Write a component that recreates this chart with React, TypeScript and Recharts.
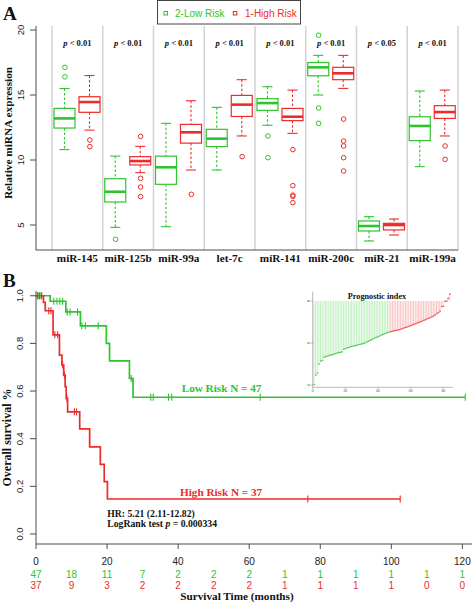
import React from 'react';
import { Bar, ComposedChart, Line, ReferenceLine, Scatter, XAxis, YAxis } from 'recharts';

const SERIF = '"Liberation Serif", "Times New Roman", serif';
const SANS = '"Liberation Sans", Arial, sans-serif';
const GREEN = '#2ec42e';
const RED = '#ee2b2b';
const AXIS = '#4d4d4d';

// ---- panel A: miRNA expression by risk group
const categories = ['miR-145', 'miR-125b', 'miR-99a', 'let-7c', 'miR-141', 'miR-200c', 'miR-21', 'miR-199a'];
const pValues = ['< 0.01', '< 0.01', '< 0.01', '< 0.01', '< 0.01', '< 0.01', '< 0.05', '< 0.01'];

// [min, q1, median, q3, max]
const lowRiskBoxes = [
  [10.8, 12.46, 13.2, 13.97, 15.5],
  [4.82, 6.77, 7.56, 8.56, 10.3],
  [4.87, 8.13, 9.44, 10.3, 12.82],
  [9.23, 11.03, 11.64, 12.36, 14.05],
  [12.67, 13.82, 14.38, 14.72, 15.64],
  [15.0, 16.48, 17.13, 17.5, 18.05],
  [3.77, 4.54, 4.92, 5.31, 5.64],
  [9.49, 11.49, 12.62, 13.33, 15.31],
];
const highRiskBoxes = [
  [12.3, 13.67, 14.46, 14.87, 16.5],
  [9.03, 9.62, 9.92, 10.26, 11.05],
  [9.23, 11.3, 12.13, 12.74, 14.56],
  [11.85, 13.35, 14.26, 14.97, 16.18],
  [12.05, 13.03, 13.33, 13.97, 15.38],
  [15.51, 16.18, 16.67, 17.13, 18.05],
  [4.23, 4.62, 5.0, 5.13, 5.46],
  [11.85, 13.2, 13.69, 14.18, 15.38],
];
const lowRiskOutliers = [[17.13, 16.4], [3.9], [], [], [11.85, 10.18], [19.6, 14.0, 12.82], [], []];
const highRiskOutliers = [
  [11.54, 11.03],
  [11.82, 8.59, 7.92, 7.18],
  [7.36],
  [10.26],
  [10.8, 8.03, 7.3, 7.2, 6.72],
  [13.15, 11.46, 11.08, 10.18, 9.15],
  [],
  [11.08, 10.05],
];
const expressionTicks = [5, 10, 15, 20];
const expressionDomain = [3.077, 20.31];

// ---- panel B: Kaplan-Meier
const lowTimes = [0, 4.0, 8.4, 12.5, 19.8, 20.7, 26.3, 27.3, 120.8];
const lowSurv = [1.0, 0.977, 0.932, 0.874, 0.8, 0.727, 0.653, 0.574, 0.574];
const highTimes = [0, 2.1, 2.6, 4.8, 6.6, 7.3, 7.8, 8.2, 8.5, 8.9, 12.3, 15.1, 18.1, 19.2, 20.1, 102.5];
const highSurv = [1.0, 0.972, 0.937, 0.836, 0.751, 0.709, 0.667, 0.618, 0.569, 0.513, 0.441, 0.366, 0.292, 0.22, 0.147, 0.147];
const lowCensorTimes = [0.6, 1.4, 5.0, 5.9, 6.7, 7.5, 8.8, 9.6, 11.7, 12.9, 13.9, 17.5, 26.8, 32.3, 33.0, 37.3, 38.2, 63.1, 120.8];
const lowCensorSurv = [1, 1, 0.977, 0.977, 0.977, 0.977, 0.932, 0.932, 0.932, 0.874, 0.874, 0.874, 0.653, 0.574, 0.574, 0.574, 0.574, 0.574, 0.574];
const highCensorTimes = [0.4, 1.0, 1.6, 3.6, 4.2, 5.3, 6.1, 7.5, 8.0, 8.7, 10.8, 11.4, 76.5, 102.5];
const highCensorSurv = [1, 1, 1, 0.937, 0.937, 0.836, 0.836, 0.709, 0.667, 0.569, 0.513, 0.513, 0.147, 0.147];
const riskTimes = [0, 10, 20, 30, 40, 50, 60, 70, 80, 90, 100, 110, 120];
const lowAtRisk = [47, 18, 11, 7, 2, 2, 2, 1, 1, 1, 1, 1, 1];
const highAtRisk = [37, 9, 3, 2, 2, 2, 2, 1, 1, 1, 1, 0, 0];
const survivalTicks = [0, 0.2, 0.4, 0.6, 0.8, 1.0];

// ---- inset: prognostic index, sorted patients (first 47 low risk)
const lowRiskCount = 47;
const prognosticIndex = [
  4.03, 4.48, 4.58, 5.0, 5.14, 5.18, 5.33, 5.36, 5.38, 5.41, 5.43, 5.45, 5.47, 5.5, 5.53, 5.55,
  5.56, 5.58, 5.7, 5.74, 5.77, 5.79, 5.82, 5.84, 5.86, 5.88, 5.9, 5.92, 5.94, 5.96, 5.98, 6.0,
  6.04, 6.08, 6.12, 6.16, 6.2, 6.24, 6.27, 6.3, 6.34, 6.38, 6.41, 6.44, 6.47, 6.5, 6.53,
  6.55, 6.57, 6.58, 6.6, 6.62, 6.64, 6.66, 6.69, 6.72, 6.74, 6.77, 6.8, 6.83, 6.86, 6.89, 6.92,
  6.95, 6.98, 7.01, 7.04, 7.08, 7.11, 7.15, 7.18, 7.21, 7.25, 7.29, 7.33, 7.4, 7.45, 7.52, 7.73,
  7.75, 7.98, 8.0, 8.13, 8.33,
];
const insetCeiling = 8;
const insetYTicks = [4, 5, 6, 7, 8];
const insetXTicks = [0, 20, 40, 60, 80];

const boxData = categories.map((name, i) => ({
  name,
  low: lowRiskBoxes[i],
  high: highRiskBoxes[i],
  lowRange: [lowRiskBoxes[i][0], lowRiskBoxes[i][4]],
  highRange: [highRiskBoxes[i][0], highRiskBoxes[i][4]],
}));
const lowOutlierPts = lowRiskOutliers.flatMap((vals, i) => vals.map((y) => ({ x: i + 0.254, y })));
const highOutlierPts = highRiskOutliers.flatMap((vals, i) => vals.map((y) => ({ x: i + 0.746, y })));
const separators = Array.from({ length: categories.length + 1 }, (_, k) => k);

const lowCurve = lowTimes.map((t, i) => ({ t, s: lowSurv[i] }));
const highCurve = highTimes.map((t, i) => ({ t, s: highSurv[i] }));
const lowCensor = lowCensorTimes.map((t, i) => ({ t, s: lowCensorSurv[i] }));
const highCensor = highCensorTimes.map((t, i) => ({ t, s: highCensorSurv[i] }));

const insetData = prognosticIndex.map((v, i) => ({
  idx: i + 1,
  v,
  range: [Math.min(v, insetCeiling), Math.max(v, insetCeiling)],
  high: i >= lowRiskCount,
}));

function BoxGlyph(props: any) {
  const { x, y, width, height, payload, statsKey, color } = props;
  const stats = payload && payload[statsKey];
  if (!stats) return null;
  const [mn, q1, med, q3, mx] = stats as number[];
  const toY = (v: number) => y + ((mx - v) / (mx - mn)) * height;
  const cx = x + width / 2;
  const cap = width * 0.24;
  return (
    <g>
      <line x1={cx} x2={cx} y1={toY(mx)} y2={toY(q3)} stroke={color} strokeWidth={1.1} strokeDasharray="2.5 2" />
      <line x1={cx} x2={cx} y1={toY(q1)} y2={toY(mn)} stroke={color} strokeWidth={1.1} strokeDasharray="2.5 2" />
      <line x1={cx - cap} x2={cx + cap} y1={toY(mx)} y2={toY(mx)} stroke={color} strokeWidth={1.1} />
      <line x1={cx - cap} x2={cx + cap} y1={toY(mn)} y2={toY(mn)} stroke={color} strokeWidth={1.1} />
      <rect x={x} y={toY(q3)} width={width} height={toY(q1) - toY(q3)} fill="#fff" stroke={color} strokeWidth={1.2} />
      <line x1={x} x2={x + width} y1={toY(med)} y2={toY(med)} stroke={color} strokeWidth={2.6} />
    </g>
  );
}

function RotatedYTick(props: any) {
  const { x, y, payload, labelOffset, digits, fontSize, tickLen } = props;
  return (
    <g>
      <line x1={x - tickLen} x2={x} y1={y} y2={y} stroke={AXIS} strokeWidth={tickLen > 3 ? 1 : 0.5} />
      <text
        transform={`translate(${x - labelOffset},${y}) rotate(-90)`}
        textAnchor="middle"
        dominantBaseline="central"
        fontFamily={SANS}
        fontSize={fontSize}
        fill="#222"
      >
        {Number(payload.value).toFixed(digits)}
      </text>
    </g>
  );
}

function CategoryTick(props: any) {
  const { x, y, payload } = props;
  return (
    <text x={x} y={y + 12} textAnchor="middle" fontFamily={SERIF} fontWeight="bold" fontSize={11.2} fill="#111">
      {payload.value}
    </text>
  );
}

function PValueTick(props: any) {
  const { x, y, payload } = props;
  const i = categories.indexOf(payload.value);
  return (
    <text x={x} y={y + 20} textAnchor="middle" fontFamily={SERIF} fontWeight="bold" fontSize={8.5} fill="#111">
      <tspan fontStyle="italic">p</tspan>
      {` ${pValues[i]}`}
    </text>
  );
}

function RiskTick(props: any) {
  const { x, y, payload } = props;
  const t = payload.value as number;
  const i = riskTimes.indexOf(t);
  const major = t % 20 === 0;
  return (
    <g fontFamily={SANS} fontSize={10} textAnchor="middle">
      {major && <line x1={x} x2={x} y1={y} y2={y + 5} stroke={AXIS} />}
      {major && (
        <text x={x} y={y + 21} fill="#222">
          {t}
        </text>
      )}
      <text x={x} y={y + 33.5} fill={GREEN}>
        {lowAtRisk[i]}
      </text>
      <text x={x} y={y + 44.5} fill={RED}>
        {highAtRisk[i]}
      </text>
    </g>
  );
}

const outlierShape = (color: string) => (p: any) =>
  <circle cx={p.cx} cy={p.cy} r={2.3} fill="none" stroke={color} strokeWidth={1} />;

const censorShape = (color: string) => (p: any) =>
  <line x1={p.cx} x2={p.cx} y1={p.cy - 3.5} y2={p.cy + 3.5} stroke={color} strokeWidth={1.1} />;

function ExpressionPanel() {
  return (
    <ComposedChart
      width={472}
      height={270}
      data={boxData}
      margin={{ top: 25, right: 14, bottom: 0, left: 0 }}
      barGap={4}
      barSize={21}
    >
      <XAxis
        xAxisId="cat"
        dataKey="name"
        type="category"
        interval={0}
        padding={{ left: 16, right: 0 }}
        height={20}
        axisLine={{ stroke: AXIS }}
        tickLine={false}
        tickSize={0}
        tickMargin={0}
        tick={(p: any) => <CategoryTick {...p} />}
      />
      <XAxis
        xAxisId="top"
        dataKey="name"
        type="category"
        orientation="top"
        interval={0}
        padding={{ left: 16, right: 0 }}
        height={1}
        axisLine={false}
        tickLine={false}
        tickSize={0}
        tickMargin={0}
        tick={(p: any) => <PValueTick {...p} />}
      />
      <XAxis xAxisId="num" type="number" dataKey="x" domain={[0, 8]} padding={{ left: 16, right: 0 }} hide allowDataOverflow />
      <YAxis
        type="number"
        domain={expressionDomain}
        ticks={expressionTicks}
        width={36}
        allowDataOverflow
        axisLine={{ stroke: AXIS }}
        tickLine={false}
        tickSize={0}
        tickMargin={0}
        tick={(p: any) => <RotatedYTick {...p} labelOffset={16} digits={0} fontSize={9.5} tickLen={6} />}
      />
      <YAxis yAxisId="pts" type="number" domain={expressionDomain} hide allowDataOverflow />
      {separators.map((k) => (
        <ReferenceLine key={k} xAxisId="num" x={k} stroke="#d2d2d2" strokeWidth={1.5} />
      ))}
      <Bar
        xAxisId="cat"
        dataKey="lowRange"
        shape={(p: any) => <BoxGlyph {...p} statsKey="low" color={GREEN} />}
        isAnimationActive={false}
      />
      <Bar
        xAxisId="cat"
        dataKey="highRange"
        shape={(p: any) => <BoxGlyph {...p} statsKey="high" color={RED} />}
        isAnimationActive={false}
      />
      <Scatter xAxisId="num" yAxisId="pts" data={lowOutlierPts} dataKey="y" shape={outlierShape(GREEN)} isAnimationActive={false} />
      <Scatter xAxisId="num" yAxisId="pts" data={highOutlierPts} dataKey="y" shape={outlierShape(RED)} isAnimationActive={false} />
    </ComposedChart>
  );
}

function SurvivalPanel() {
  return (
    <ComposedChart width={472} height={334} margin={{ top: 21, right: 0, bottom: 0, left: 0 }}>
      <XAxis
        type="number"
        dataKey="t"
        domain={[0, 122.7]}
        ticks={riskTimes}
        interval={0}
        height={60}
        allowDataOverflow
        axisLine={{ stroke: AXIS }}
        tickLine={false}
        tickSize={0}
        tickMargin={0}
        tick={(p: any) => <RiskTick {...p} />}
      />
      <YAxis
        type="number"
        domain={[-0.042, 1.02]}
        ticks={survivalTicks}
        width={36}
        allowDataOverflow
        axisLine={{ stroke: AXIS }}
        tickLine={false}
        tickSize={0}
        tickMargin={0}
        tick={(p: any) => <RotatedYTick {...p} labelOffset={17} digits={1} fontSize={9.5} tickLen={6} />}
      />
      <Line data={lowCurve} dataKey="s" type="stepAfter" stroke={GREEN} strokeWidth={1.7} dot={false} activeDot={false} isAnimationActive={false} />
      <Line data={highCurve} dataKey="s" type="stepAfter" stroke={RED} strokeWidth={1.7} dot={false} activeDot={false} isAnimationActive={false} />
      <Scatter data={lowCensor} dataKey="s" shape={censorShape(GREEN)} isAnimationActive={false} />
      <Scatter data={highCensor} dataKey="s" shape={censorShape(RED)} isAnimationActive={false} />
    </ComposedChart>
  );
}

function InsetBar(props: any) {
  const { x, y, width, height, payload } = props;
  if (!payload) return null;
  return <rect x={x} y={y} width={Math.max(width, 0.8)} height={Math.abs(height)} fill={payload.high ? '#f8c6c6' : '#c2f0c2'} />;
}

function InsetDot(props: any) {
  const { cx, cy, payload } = props;
  if (!payload) return null;
  return <rect x={cx - 0.9} y={cy - 0.6} width={1.8} height={1.2} fill={payload.high ? '#ee5050' : '#4cc94c'} />;
}

function InsetPanel() {
  return (
    <ComposedChart width={160} height={110} data={insetData} margin={{ top: 6.5, right: 7, bottom: 0, left: 0 }}>
      <XAxis
        type="number"
        dataKey="idx"
        domain={[0, 85.9]}
        ticks={insetXTicks}
        interval={0}
        height={7.7}
        allowDataOverflow
        axisLine={{ stroke: '#888', strokeWidth: 0.6 }}
        tickLine={{ stroke: '#888', strokeWidth: 0.5 }}
        tickSize={1.5}
        tickMargin={0.3}
        tick={{ fontSize: 3.5, fill: '#555', fontFamily: SANS }}
      />
      <YAxis
        type="number"
        domain={[3.9, 8.45]}
        ticks={insetYTicks}
        width={12.7}
        allowDataOverflow
        axisLine={{ stroke: '#888', strokeWidth: 0.6 }}
        tickLine={false}
        tickSize={0}
        tickMargin={0}
        tick={(p: any) => <RotatedYTick {...p} labelOffset={3.5} digits={0} fontSize={3.5} tickLen={1.5} />}
      />
      <Bar dataKey="range" barSize={1} shape={(p: any) => <InsetBar {...p} />} isAnimationActive={false} />
      <Scatter dataKey="v" shape={(p: any) => <InsetDot {...p} />} isAnimationActive={false} />
    </ComposedChart>
  );
}

function Annotations() {
  const bold = { fontFamily: SERIF, fontWeight: 'bold' as const };
  return (
    <svg width={472} height={604} style={{ position: 'absolute', left: 0, top: 0, pointerEvents: 'none' }}>
      <text x={3} y={20} {...bold} fontSize={19} fill="#111">A</text>
      <rect x={157.5} y={0.5} width={143} height={23.5} fill="none" stroke="#444" strokeWidth={1} />
      <rect x={164} y={11.5} width={3.5} height={3.5} fill="none" stroke={GREEN} strokeWidth={1} />
      <text x={175} y={16.8} fontFamily={SANS} fontSize={10} fill={GREEN}>2-Low Risk</text>
      <rect x={233.3} y={11.5} width={3.5} height={3.5} fill="none" stroke={RED} strokeWidth={1} />
      <text x={245} y={16.8} fontFamily={SANS} fontSize={10} fill={RED}>1-High Risk</text>
      <text
        transform="translate(8,133) rotate(-90)"
        textAnchor="middle"
        dominantBaseline="central"
        {...bold}
        fontSize={11.3}
        fill="#111"
      >
        Relative miRNA expression
      </text>

      <text x={3} y={287} {...bold} fontSize={19} fill="#111">B</text>
      <text
        transform="translate(7,437.5) rotate(-90)"
        textAnchor="middle"
        dominantBaseline="central"
        {...bold}
        fontSize={12}
        fill="#111"
      >
        Overall survival %
      </text>
      <text x={181.7} y={392} {...bold} fontSize={11.2} fill={GREEN}>{`Low Risk N = ${lowAtRisk[0]}`}</text>
      <text x={180} y={495.8} {...bold} fontSize={11.2} fill={RED}>{`High Risk N = ${highAtRisk[0]}`}</text>
      <text x={107.3} y={516.5} {...bold} fontSize={9.7} fill="#111">HR: 5.21 (2.11-12.82)</text>
      <text x={107.3} y={526.8} {...bold} fontSize={9.7} fill="#111">
        LogRank test <tspan fontStyle="italic">p</tspan> = 0.000334
      </text>
      <text x={237} y={600} textAnchor="middle" {...bold} fontSize={11.2} fill="#111">Survival Time (months)</text>
      <text x={377} y={299} textAnchor="middle" {...bold} fontSize={8.2} fill="#111">Prognostic index</text>
    </svg>
  );
}

export default function App() {
  return (
    <div style={{ position: 'absolute', left: 0, top: 0, width: 472, height: 604, background: '#fff', overflow: 'hidden' }}>
      <div style={{ position: 'absolute', left: 0, top: 0 }}>
        <ExpressionPanel />
      </div>
      <div style={{ position: 'absolute', left: 0, top: 270 }}>
        <SurvivalPanel />
      </div>
      <div style={{ position: 'absolute', left: 300, top: 285 }}>
        <InsetPanel />
      </div>
      <Annotations />
    </div>
  );
}
